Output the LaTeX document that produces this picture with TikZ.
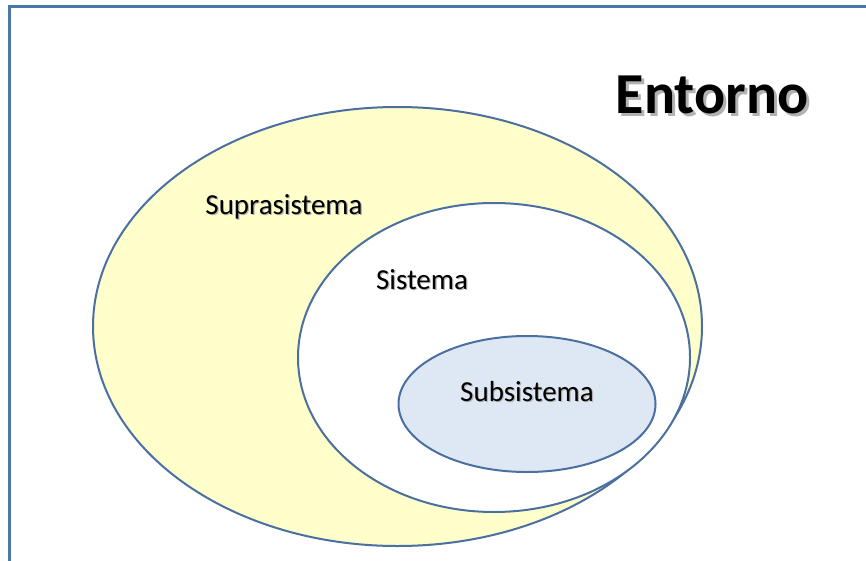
\documentclass[tikz,border=0pt]{standalone}
\usepackage{fontspec}
\setmainfont{Carlito}
\definecolor{edge}{HTML}{4A6FA0}
\definecolor{frameblue}{HTML}{4A78AA}
\definecolor{supra}{HTML}{FFFFCC}
\definecolor{subfill}{HTML}{DDE8F4}
\newcommand{\shadowtext}[3]{\rlap{\kern#1\raisebox{-#1}{\textcolor{#2}{#3}}}#3}
\tikzset{
  ring/.style={draw=edge, line width=2pt},
  lab/.style={font=\fontsize{29}{34}\selectfont, text=black, inner sep=0pt},
}
\begin{document}
\begin{tikzpicture}[x=1pt,y=-1pt]
\useasboundingbox (0,0) rectangle (866,561);
\draw[frameblue, line width=3pt] (9.5,600) -- (9.5,6.5) -- (900,6.5);
\draw[ring, fill=supra] (397.5,326.5) ellipse [x radius=304.5, y radius=219.5];
\draw[ring, fill=white] (494,357.5) ellipse [x radius=196, y radius=154.5];
\draw[ring, fill=subfill] (527,404) ellipse [x radius=128.5, y radius=68];
\node[font=\bfseries\fontsize{58}{66}\selectfont, text=black, inner sep=0pt] (ent) at (712,96) {\shadowtext{3pt}{black!30}{Entorno}};
\node[lab] (supra) at (284,207) {\shadowtext{1.2pt}{black!30}{Suprasistema}};
\node[lab] (sis) at (422,280) {\shadowtext{1.2pt}{black!30}{Sistema}};
\node[lab] (sub) at (527,392) {\shadowtext{1.2pt}{black!30}{Subsistema}};
\end{tikzpicture}
\end{document}
